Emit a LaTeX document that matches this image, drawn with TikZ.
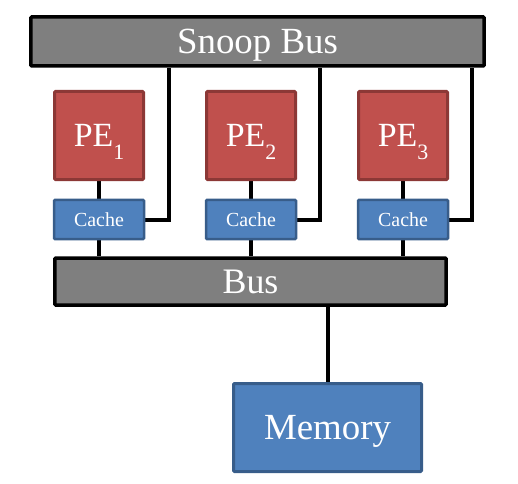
\documentclass[tikz,border=0pt]{standalone}
\usepackage{fontspec}
\setmainfont{Liberation Serif}
\usetikzlibrary{backgrounds}
\definecolor{busgray}{HTML}{7F7F7F}
\definecolor{pered}{HTML}{C0504D}
\definecolor{peborder}{HTML}{8C3836}
\definecolor{cblue}{HTML}{4F81BD}
\definecolor{cborder}{HTML}{385D8A}
\tikzset{
  busbox/.style={draw=black, line width=3.5bp, fill=busgray, text=white, inner sep=0pt, rounded corners=0.8bp, text depth=0pt},
  pebox/.style={draw=peborder, line width=3bp, fill=pered, text=white, inner sep=0pt, minimum width=89bp, minimum height=88bp, rounded corners=1bp, font=\fontsize{34}{40}\selectfont, text height=22.5bp, text depth=0pt},
  cachebox/.style={draw=cborder, line width=2.5bp, fill=cblue, text=white, inner sep=0pt, minimum width=90bp, minimum height=39bp, rounded corners=1bp, font=\fontsize{20}{24}\selectfont, text height=13.2bp, text depth=0pt},
  membox/.style={draw=cborder, line width=3bp, fill=cblue, text=white, inner sep=0pt, minimum width=188bp, minimum height=88bp, rounded corners=1bp, font=\fontsize{37}{44}\selectfont, text height=24.5bp, text depth=0pt},
  wire/.style={draw=black, line width=4bp}
}
\newcommand{\pelabel}[1]{PE\raisebox{-13bp}{\fontsize{22}{26}\selectfont #1}}
\begin{document}
\begin{tikzpicture}[x=1bp, y=-1bp]
\useasboundingbox (0,0) rectangle (518,484);
\node[busbox, minimum width=453bp, minimum height=49bp, font=\fontsize{37}{44}\selectfont, text height=24.5bp] (snoop) at (257.5,41.5) {Snoop Bus};
\node[pebox] (pe1) at (99,135.5) {\pelabel{1}};
\node[pebox] (pe2) at (251,135.5) {\pelabel{2}};
\node[pebox] (pe3) at (403,135.5) {\pelabel{3}};
\node[cachebox] (c1) at (99,219.5) {Cache};
\node[cachebox] (c2) at (251,219.5) {Cache};
\node[cachebox] (c3) at (403,219.5) {Cache};
\node[busbox, minimum width=391bp, minimum height=47bp, font=\fontsize{36}{42}\selectfont, text height=23.8bp] (bus) at (250.5,281.5) {Bus};
\node[membox] (mem) at (327.5,427.5) {Memory};
\coordinate (s1) at (169,0);
\coordinate (s2) at (320,0);
\coordinate (s3) at (472,0);
\begin{scope}[on background layer]
\draw[wire] (pe1.south) -- (c1.north);
\draw[wire] (pe2.south) -- (c2.north);
\draw[wire] (pe3.south) -- (c3.north);
\draw[wire] (c1.south) -- (c1.south |- bus.north);
\draw[wire] (c2.south) -- (c2.south |- bus.north);
\draw[wire] (c3.south) -- (c3.south |- bus.north);
\draw[wire] (c1.east) -| (s1 |- snoop.south);
\draw[wire] (c2.east) -| (s2 |- snoop.south);
\draw[wire] (c3.east) -| (s3 |- snoop.south);
\draw[wire] (mem.north |- bus.south) -- (mem.north);
\end{scope}
\end{tikzpicture}
\end{document}
